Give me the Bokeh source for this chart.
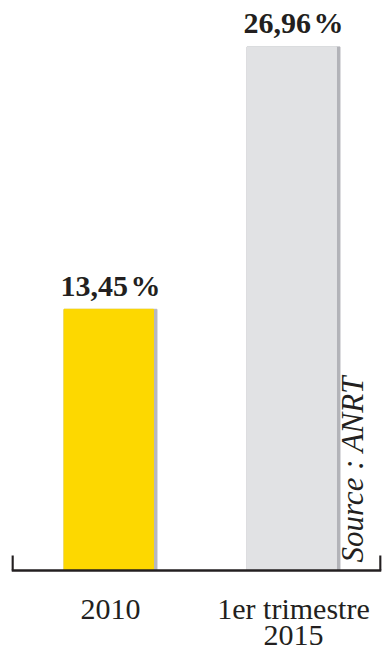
from bokeh.plotting import figure
from bokeh.models import ColumnDataSource, Range1d, FixedTicker, Label
from bokeh.transform import dodge
from bokeh.core.properties import value
from bokeh.embed import file_html
from bokeh.resources import INLINE
import math

# ---- data ----
categories = ["2010", "1er trimestre\n2015"]
values = [13.45, 26.96]
value_labels = ["13,45\u200a%", "26,96\u200a%"]
bar_colors = ["#FDD800", "#E1E2E4"]
shadow_colors = ["#B7B7BF", "#B2B3B8"]
source_text = "Source : ANRT"

xs = list(range(len(categories)))
src = ColumnDataSource(dict(x=xs, top=values, lab=value_labels,
                            color=bar_colors, shadow=shadow_colors))

X0, X1 = -0.541, 1.481
p = figure(width=383, height=646, output_backend="svg", toolbar_location=None,
           x_range=Range1d(X0, X1), y_range=Range1d(-3.913, 29.35),
           min_border_left=11, min_border_right=2, min_border_top=0,
           min_border_bottom=0)
p.background_fill_color = "white"
p.border_fill_color = "white"
p.outline_line_color = None
p.grid.visible = False
p.yaxis.visible = False

# shadow (right edge) then main bar
p.vbar(x="x", top="top", bottom=0, width=0.508, color="shadow", source=src)
p.vbar(x=dodge("x", -0.0096), top="top", bottom=0, width=0.489,
       color="color", source=src)

p.text(x="x", y=dodge("top", 1.236), text="lab", source=src,
       text_align="center", text_baseline="middle",
       text_font=value("Liberation Serif"), text_font_style="bold",
       text_font_size="30px", text_color="#231F20")

ax = p.xaxis[0]
ax.fixed_location = 0
ax.ticker = FixedTicker(ticks=xs, minor_ticks=[X0 + 0.003, X1 - 0.003])
ax.major_label_overrides = {i: c for i, c in zip(xs, categories)}
ax.major_label_standoff = 15
ax.major_tick_line_color = None
ax.minor_tick_in = 15
ax.minor_tick_out = 0
ax.minor_tick_line_width = 2.5
ax.minor_tick_line_color = "#231F20"
ax.axis_line_width = 2.5
ax.axis_line_color = "#231F20"
ax.major_label_text_font = "Liberation Serif"
ax.major_label_text_font_size = "30px"
ax.major_label_text_color = "#231F20"
ax.major_label_text_line_height = 0.8

lbl = Label(x=1.32, y=0.41, text=source_text, angle=math.pi / 2,
            text_align="left", text_baseline="middle",
            text_font="Liberation Serif", text_font_style="italic",
            text_font_size="31px", text_color="#231F20")
p.add_layout(lbl)

open("out.html", "w").write(file_html(p, INLINE))
